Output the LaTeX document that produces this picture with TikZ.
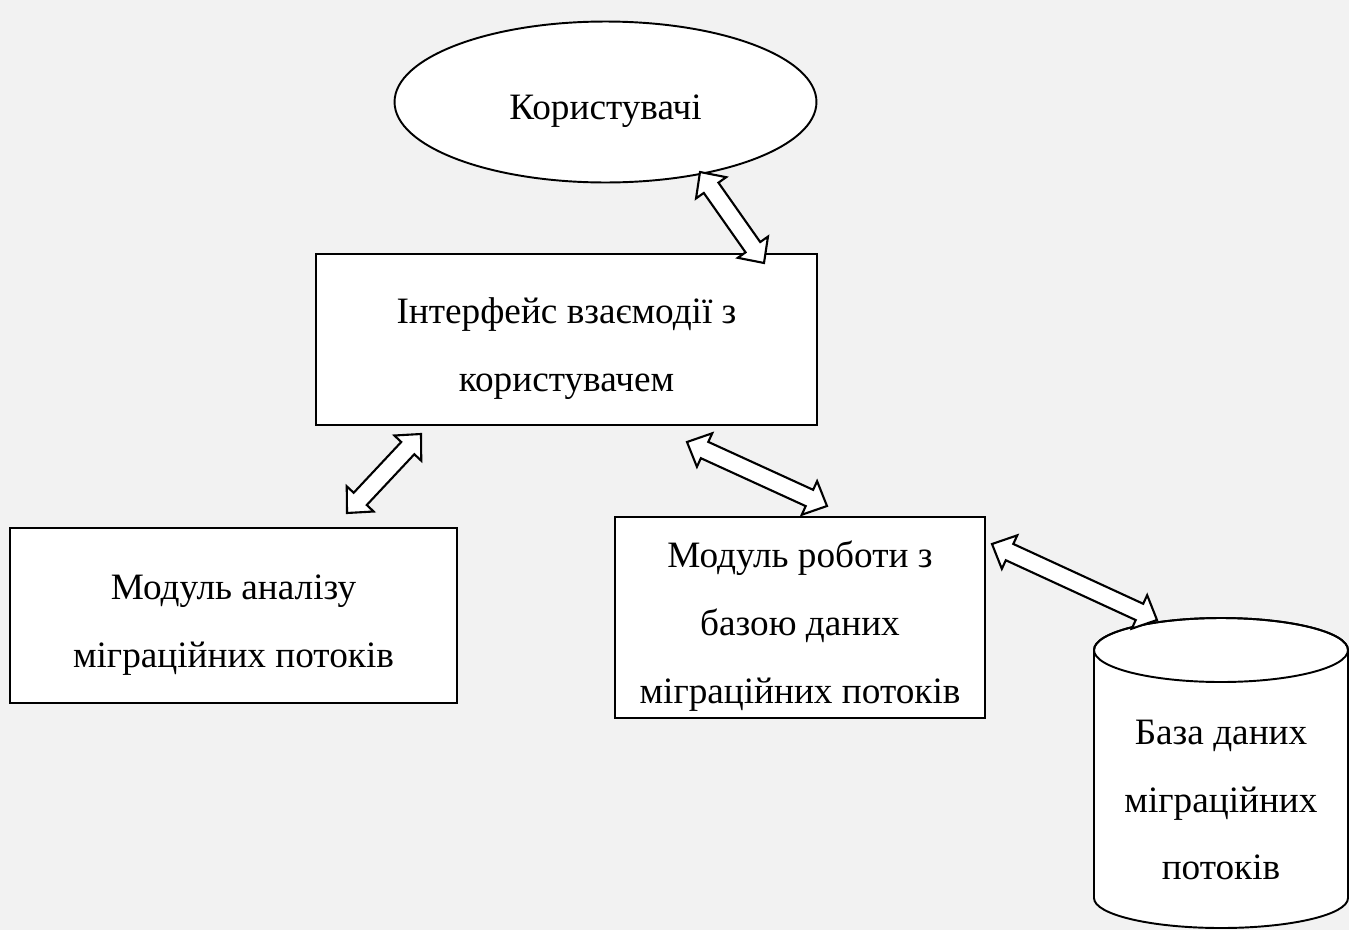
\documentclass[tikz,border=0pt]{standalone}
\usepackage{fontspec}
\setmainfont{Liberation Serif}
\usepackage{tikz}
\usetikzlibrary{shapes.geometric, calc, positioning}

\definecolor{bggray}{RGB}{242,242,242}
\newcommand{\tstrut}{\rule{0pt}{25pt}}

\tikzset{
  block/.style={draw, fill=white, line width=1.1pt, align=center, inner sep=0pt},
  dblarrow/.style={draw, fill=white, line width=1.2pt, line join=miter,
    to path={let \p1=(\tikztostart), \p2=(\tikztotarget),
      \n1={atan2(\y2-\y1,\x2-\x1)} in
      (\p1) -- ($(\p1)+(\n1:11pt)+(\n1+90:10.5pt)$)
      -- ($(\p1)+(\n1:11pt)+(\n1+90:5.1pt)$)
      -- ($(\p2)+(\n1:-11pt)+(\n1+90:5.1pt)$)
      -- ($(\p2)+(\n1:-11pt)+(\n1+90:10.5pt)$)
      -- (\p2)
      -- ($(\p2)+(\n1:-11pt)+(\n1-90:10.5pt)$)
      -- ($(\p2)+(\n1:-11pt)+(\n1-90:5.1pt)$)
      -- ($(\p1)+(\n1:11pt)+(\n1-90:5.1pt)$)
      -- ($(\p1)+(\n1:11pt)+(\n1-90:10.5pt)$)
      -- cycle}}
}

\begin{document}
\begin{tikzpicture}[x=0.02cm, y=-0.02cm, font=\fontsize{21.2}{38.5}\selectfont]
    % Background
    \fill[bggray] (0,0) rectangle (1349,930);
    \useasboundingbox (0,0) rectangle (1349,930);

    % Blocks
    \node[block, ellipse, minimum width=8.44cm, minimum height=3.22cm] (users) at (605.5,102) {\tstrut Користувачі};
    \node[block, minimum width=10.02cm, minimum height=3.42cm] (ui) at (566.5,339.5) {\tstrut Інтерфейс взаємодії з\\користувачем};
    \node[block, minimum width=8.94cm, minimum height=3.5cm] (analysis) at (233.5,615.5) {\tstrut Модуль аналізу\\міграційних потоків};
    \node[block, minimum width=7.4cm, minimum height=4.02cm] (dbmodule) at (800,617.5) {\tstrut Модуль роботи з\\базою даних\\міграційних потоків};

    % Database (cylinder)
    \draw[fill=white, line width=1.1pt] (1094,650) -- (1094,898)
        arc[start angle=180, end angle=0, x radius=127, y radius=30]
        -- (1348,650) arc[start angle=0, end angle=-180, x radius=127, y radius=32] -- cycle;
    \draw[line width=1.1pt] (1221,650) ellipse [x radius=127, y radius=32];
    \node[align=center] (db) at (1221,800) {База даних\\міграційних\\потоків};

    % Arrow ends
    \coordinate (usersend) at (700,172);  \coordinate (uitop) at (764,263);
    \coordinate (uileft) at (421,434);    \coordinate (analysisend) at (347,513);
    \coordinate (uiright) at (687,442);   \coordinate (dbmoduletop) at (827,506);
    \coordinate (dbmoduleend) at (992,544); \coordinate (dbend) at (1157,620);

    % Links
    \draw[dblarrow] (usersend) to (uitop);
    \draw[dblarrow] (uileft) to (analysisend);
    \draw[dblarrow] (uiright) to (dbmoduletop);
    \draw[dblarrow] (dbmoduleend) to (dbend);
\end{tikzpicture}
\end{document}
